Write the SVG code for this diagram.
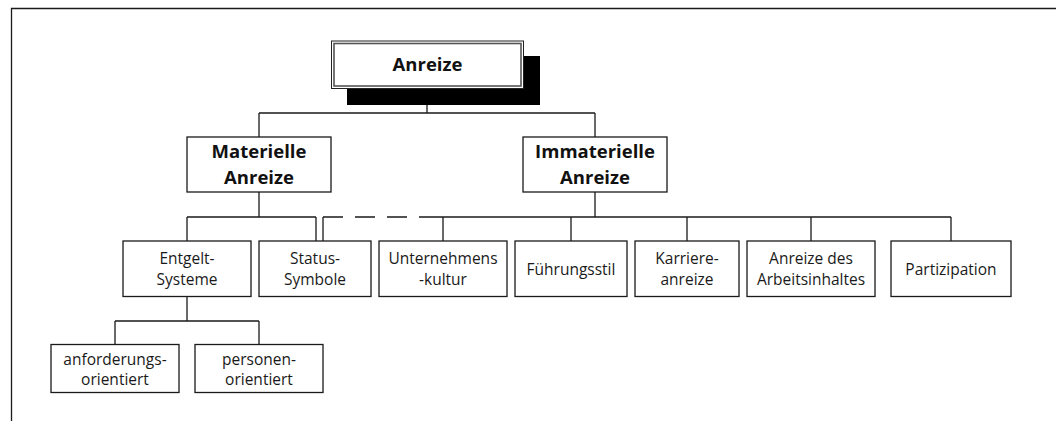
<svg xmlns="http://www.w3.org/2000/svg" width="1056" height="421" viewBox="0 0 1056 421">
<style>
.box{fill:#fff;stroke:#1a1a1a;stroke-width:1.3}
.ln{fill:none;stroke:#1a1a1a;stroke-width:1.3}
.t{font-family:"Open Sans","Liberation Sans",sans-serif;font-size:15.5px;fill:#1a1a1a;text-anchor:middle}
.b{font-family:"Open Sans","Liberation Sans",sans-serif;font-size:18.5px;font-weight:bold;fill:#111;text-anchor:middle}
</style>
<rect width="1056" height="421" fill="#fff"/>
<g id="frame">
<path class="ln" d="M11.5 421V8.5H1056" stroke-width="1.6"/>
</g>
<g id="connectors">
<path class="ln" d="M427 105V113M259 113H595M259 113V137M595 113V137"/>
<path class="ln" d="M259 192V217M187 217H316M187 217V241M316 217V241"/>
<path class="ln" d="M323 241V217" />
<path class="ln" d="M323 217H343M355 217H375M387 217H407M419 217H443"/>
<path class="ln" d="M595 192V217" stroke-width="2.2"/>
<path class="ln" d="M443 217H811" stroke-width="1.8"/>
<path class="ln" d="M811 217H951M443 217V241M571 217V241M687 217V241M811 217V241M951 217V241"/>
<path class="ln" d="M187 296V321M115 321H259M115 321V344M259 321V344"/>
</g>
<g id="n-anreize">
<rect x="347" y="56" width="193" height="49" fill="#000"/>
<rect x="331.5" y="41" width="192" height="47.5" fill="#fff" stroke="#222" stroke-width="1"/>
<rect x="334" y="43.5" width="187" height="42.5" fill="none" stroke="#555" stroke-width="1.6"/>
<text class="b" x="427.5" y="71">Anreize</text>
</g>
<g id="n-materielle">
<rect class="box" x="187" y="137" width="144" height="55"/>
<text class="b" x="259" y="158">Materielle</text>
<text class="b" x="259" y="183.5">Anreize</text>
</g>
<g id="n-immaterielle">
<rect class="box" x="523" y="137" width="144" height="55"/>
<text class="b" x="595" y="158">Immaterielle</text>
<text class="b" x="595" y="183.5">Anreize</text>
</g>
<g id="n-entgelt">
<rect class="box" x="123" y="241" width="128" height="55.5"/>
<text class="t" x="187" y="264">Entgelt-</text>
<text class="t" x="187" y="285">Systeme</text>
</g>
<g id="n-status">
<rect class="box" x="259" y="241" width="112" height="55.5"/>
<text class="t" x="315" y="264">Status-</text>
<text class="t" x="315" y="285">Symbole</text>
</g>
<g id="n-unternehmen">
<rect class="box" x="379" y="241" width="128" height="55.5"/>
<text class="t" x="443" y="264">Unternehmens</text>
<text class="t" x="443" y="285">-kultur</text>
</g>
<g id="n-fuehrung">
<rect class="box" x="515" y="241" width="112" height="55.5"/>
<text class="t" x="571" y="275">Führungsstil</text>
</g>
<g id="n-karriere">
<rect class="box" x="635" y="241" width="104" height="55.5"/>
<text class="t" x="687" y="264">Karriere-</text>
<text class="t" x="687" y="285">anreize</text>
</g>
<g id="n-arbeitsinhalt">
<rect class="box" x="747" y="241" width="128" height="55.5"/>
<text class="t" x="811" y="264">Anreize des</text>
<text class="t" x="811" y="285">Arbeitsinhaltes</text>
</g>
<g id="n-partizipation">
<rect class="box" x="891" y="241" width="120" height="55.5"/>
<text class="t" x="951" y="275">Partizipation</text>
</g>
<g id="n-anforderung">
<rect class="box" x="51" y="344.5" width="128" height="48"/>
<text class="t" x="115" y="364.5">anforderungs-</text>
<text class="t" x="115" y="385">orientiert</text>
</g>
<g id="n-personen">
<rect class="box" x="195" y="344.5" width="128" height="48"/>
<text class="t" x="259" y="364.5">personen-</text>
<text class="t" x="259" y="385">orientiert</text>
</g>
</svg>
